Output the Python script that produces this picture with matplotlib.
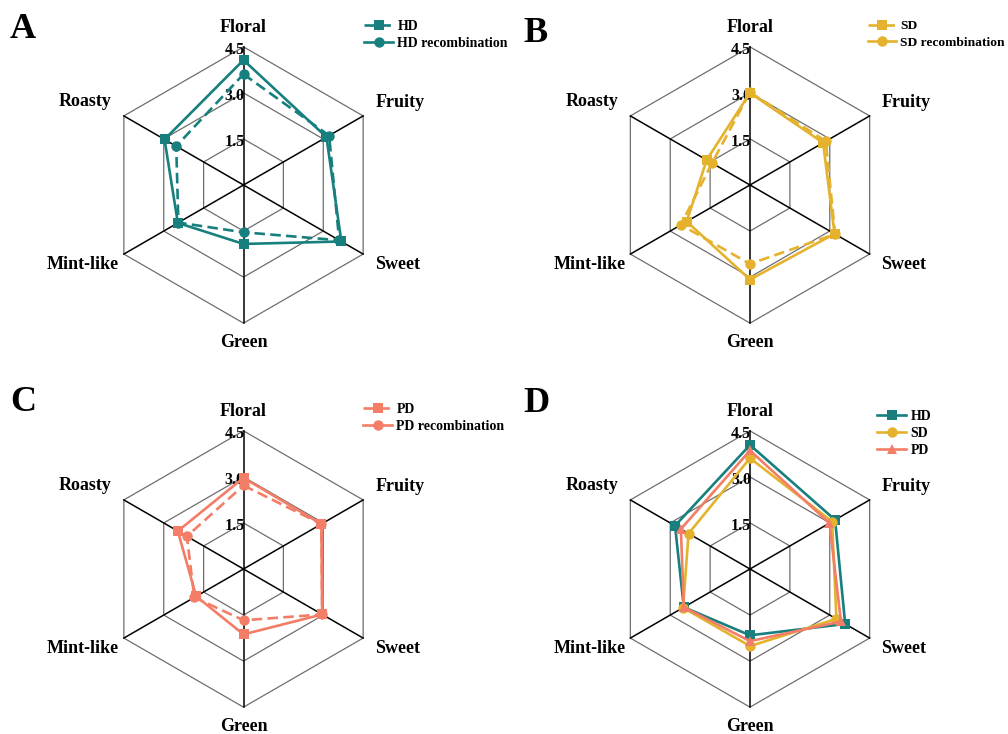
import numpy as np
import matplotlib
matplotlib.use("Agg")
import matplotlib.pyplot as plt
from matplotlib.lines import Line2D

# Sensory attributes, clockwise from the top spoke
attributes = ["Floral", "Fruity", "Sweet", "Green", "Mint-like", "Roasty"]
angles_deg = [90, 30, -30, -90, -150, 150]
r_ticks = [1.5, 3.0, 4.5]
tick_labels = ["1.5", "3.0", "4.5"]

# Panel A-C: distillate vs. recombination model scores
hd = [4.07, 3.12, 3.68, 1.92, 2.47, 2.97]
hd_recomb = [3.61, 3.22, 3.60, 1.54, 2.45, 2.53]
sd = [3.00, 2.75, 3.18, 3.08, 2.38, 1.63]
sd_recomb = [3.02, 2.85, 3.20, 2.57, 2.60, 1.43]
pd_ = [2.97, 2.93, 2.96, 2.13, 1.78, 2.47]
pd_recomb = [2.72, 2.93, 2.96, 1.67, 1.85, 2.13]

# Panel D: comparison of the three distillation methods
hd_cmp = [4.04, 3.20, 3.58, 2.16, 2.49, 2.82]
sd_cmp = [3.61, 3.09, 3.25, 2.51, 2.52, 2.31]
pd_cmp = [3.86, 2.99, 3.42, 2.35, 2.49, 2.60]

TEAL = "#17807e"
GOLD = "#e4b22c"
SALMON = "#f37d66"

W, H = 1008, 734
PX_PER_UNIT = 30.7
DASHED = (0, (4, 2))

plt.rcParams["font.family"] = ["Liberation Serif", "DejaVu Serif"]
plt.rcParams["font.weight"] = "bold"

fig = plt.figure(figsize=(W / 100, H / 100), dpi=100)
fig.patch.set_facecolor("white")

theta = np.deg2rad(angles_deg)


def polar_xy(values):
    v = np.asarray(values, dtype=float)
    x = v * np.cos(theta)
    y = v * np.sin(theta)
    return np.append(x, x[0]), np.append(y, y[0])


def make_radar(cx, cy):
    s = 400
    ax = fig.add_axes([(cx - s / 2) / W, (H - cy - s / 2) / H, s / W, s / H])
    lim = s / 2 / PX_PER_UNIT
    ax.set_xlim(-lim, lim)
    ax.set_ylim(-lim, lim)
    ax.axis("off")
    # hexagonal grid
    for r in r_ticks:
        gx, gy = polar_xy([r] * len(attributes))
        ax.plot(gx, gy, color="#6e6e6e", lw=0.9, zorder=1)
    # spokes
    for t in theta:
        ax.plot([0, r_ticks[-1] * np.cos(t)], [0, r_ticks[-1] * np.sin(t)],
                color="black", lw=1.1, zorder=1.5)
    # radial tick labels along the top spoke
    for r, lab in zip(r_ticks, tick_labels):
        ax.text(0.04, r - 0.24, lab, ha="right", va="baseline",
                fontsize=11.5, fontweight="bold", zorder=2, clip_on=False)
    # attribute labels
    lbl = dict(fontsize=13, fontweight="bold", clip_on=False)
    ax.text(0, 4.97, attributes[0], ha="center", va="baseline", **lbl)
    ax.text(4.29, 2.53, attributes[1], ha="left", va="baseline", **lbl)
    ax.text(4.27, -2.73, attributes[2], ha="left", va="baseline", **lbl)
    ax.text(0, -5.29, attributes[3], ha="center", va="baseline", **lbl)
    ax.text(-4.06, -2.73, attributes[4], ha="right", va="baseline", **lbl)
    ax.text(-4.29, 2.56, attributes[5], ha="right", va="baseline", **lbl)
    return ax


def series(ax, values, color, marker, ls, ms, z):
    x, y = polar_xy(values)
    ax.plot(x, y, color=color, lw=1.9, ls=ls, zorder=z)
    ax.plot(x[:-1], y[:-1], ls="none", marker=marker, ms=ms,
            color=color, markeredgewidth=0, zorder=z + 0.1)


def legend(ax, handles, x_px, y_px, size=10):
    ax.legend(handles=handles, loc="upper left",
              bbox_to_anchor=(x_px / W, 1 - y_px / H),
              bbox_transform=fig.transFigure, frameon=False,
              borderpad=0, borderaxespad=0, handlelength=2.1,
              handletextpad=0.3, labelspacing=0.28,
              prop={"size": size, "weight": "bold"})


def pair_handles(color, name):
    return [
        Line2D([], [], color=color, lw=1.9, ls=DASHED, marker="s", ms=6.5,
               markeredgewidth=0, label=name),
        Line2D([], [], color=color, lw=1.9, ls="-", marker="o", ms=7.5,
               markeredgewidth=0, label=name + " recombination"),
    ]


# Panel A
axA = make_radar(243.5, 185)
series(axA, hd_recomb, TEAL, "o", DASHED, 7.5, 3)
series(axA, hd, TEAL, "s", "-", 6.5, 4)
legend(axA, pair_handles(TEAL, "HD"), 364, 20)

# Panel B
axB = make_radar(750, 185)
series(axB, sd_recomb, GOLD, "o", DASHED, 7.5, 3)
series(axB, sd, GOLD, "s", "-", 6.5, 4)
legend(axB, pair_handles(GOLD, "SD"), 868, 20, size=9.7)

# Panel C
axC = make_radar(243.5, 569)
series(axC, pd_recomb, SALMON, "o", DASHED, 7.5, 3)
series(axC, pd_, SALMON, "s", "-", 6.5, 4)
legend(axC, pair_handles(SALMON, "PD"), 363, 403)

# Panel D
axD = make_radar(750, 569)
series(axD, hd_cmp, TEAL, "s", "-", 6.5, 3)
series(axD, sd_cmp, GOLD, "o", "-", 7.5, 4)
series(axD, pd_cmp, SALMON, "^", "-", 7.5, 5)
legend(axD, [
    Line2D([], [], color=TEAL, lw=1.9, marker="s", ms=6.5, markeredgewidth=0, label="HD"),
    Line2D([], [], color=GOLD, lw=1.9, marker="o", ms=7.5, markeredgewidth=0, label="SD"),
    Line2D([], [], color=SALMON, lw=1.9, marker="^", ms=7.5, markeredgewidth=0, label="PD"),
], 877, 410)

# Panel letters
for letter, x, y in [("A", 22.5, 38), ("B", 536, 42), ("C", 23, 411), ("D", 536, 412)]:
    fig.text(x / W, 1 - y / H, letter, ha="center", va="baseline",
             fontsize=26, fontweight="bold")

fig.savefig("out.png", dpi=100, facecolor="white")
